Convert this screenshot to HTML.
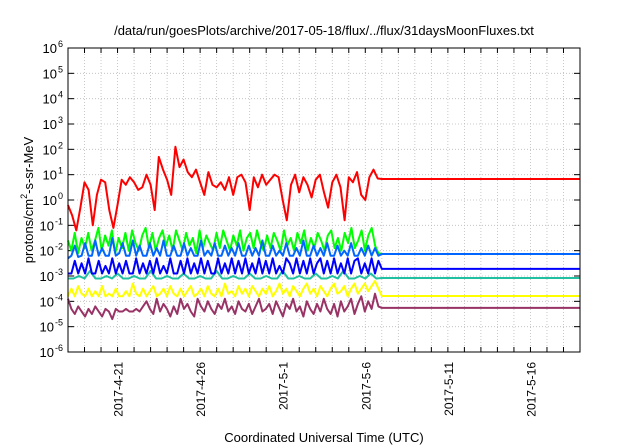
<!DOCTYPE html>
<html><head><meta charset="utf-8"><style>
body{margin:0;background:#fff;}
svg{display:block;font-family:"Liberation Sans",sans-serif;}
</style></head><body>
<svg id="chart" width="640" height="448" viewBox="0 0 640 448"></svg>
<script>
const yTickExps=[-6,-5,-4,-3,-2,-1,0,1,2,3,4,5,6];
const xTickLabels=["2017-4-21","2017-4-26","2017-5-1","2017-5-6","2017-5-11","2017-5-16"];
const xTickDays=[3,8,13,18,23,28];
const red=[-0.2,-0.6,-1.2,-0.3,0.7,0.4,-1.0,0.2,0.8,0.7,-0.4,-1.1,-0.2,0.8,0.6,0.9,0.7,0.4,0.5,1.0,0.6,-0.4,1.7,1.2,0.8,0.2,2.1,1.3,1.6,1.1,0.9,1.2,0.7,0.2,1.1,0.6,0.5,0.7,0.4,0.9,0.2,0.9,1.0,0.7,-0.4,0.9,0.5,1.0,0.6,0.8,1.0,0.9,0.0,-0.8,0.6,1.0,0.3,0.9,0.6,0.1,0.8,1.0,0.3,-0.3,0.7,1.0,0.5,-0.8,0.9,0.7,1.1,0.2,0.0,0.9,1.2,0.85,0.83];
const green=[-1.6,-2.0,-1.3,-2.1,-1.5,-1.9,-1.3,-2.0,-1.6,-1.1,-2.0,-1.4,-1.8,-1.2,-2.1,-1.5,-1.9,-1.3,-2.0,-1.2,-1.7,-2.0,-1.4,-1.1,-1.9,-1.3,-2.0,-1.5,-1.2,-1.8,-1.4,-2.0,-1.2,-1.6,-2.0,-1.3,-1.8,-1.5,-2.1,-1.2,-1.9,-1.4,-1.7,-2.0,-1.3,-1.9,-1.2,-1.6,-2.0,-1.4,-1.8,-1.2,-2.0,-1.5,-1.3,-1.9,-1.2,-1.7,-2.0,-1.4,-1.9,-1.3,-1.6,-2.0,-1.2,-1.8,-1.5,-2.0,-1.3,-1.7,-1.2,-2.0,-1.5,-1.9,-1.3,-1.6,-2.0,-1.4,-1.2,-1.9,-1.5,-2.0,-1.3,-1.7,-1.1,-1.9,-1.6,-1.2,-2.0,-1.4,-1.1,-1.8,-2.1,-2.13];
const lightBlue=[-2.3,-2.2,-1.8,-2.25,-2.2,-1.7,-2.2,-2.2,-1.6,-2.2,-1.9,-2.2,-2.2,-1.5,-2.2,-2.1,-1.7,-2.2,-2.2,-1.6,-2.2,-1.8,-2.2,-2.2,-1.7,-2.2,-1.9,-2.2,-1.6,-2.2,-2.2,-1.8,-2.2,-2.2,-1.7,-2.2,-1.9,-2.2,-2.2,-1.6,-2.2,-2.0,-2.2,-1.7,-2.2,-2.2,-1.8,-2.2,-1.9,-2.2,-1.7,-2.2,-2.2,-1.8,-2.2,-1.9,-2.2,-1.6,-2.2,-2.2,-1.8,-2.2,-2.0,-2.2,-1.7,-2.2,-2.2,-1.9,-2.2,-1.6,-2.2,-2.2,-1.8,-2.2,-1.9,-2.2,-1.7,-2.2,-2.2,-1.8,-2.2,-2.0,-2.2,-1.7,-2.2,-2.2,-1.9,-2.2,-1.8,-2.2,-1.9,-2.2,-2.13];
const blue=[-2.9,-2.9,-2.4,-2.9,-2.5,-2.9,-2.3,-2.9,-2.9,-2.4,-2.9,-2.6,-2.9,-2.3,-2.9,-2.5,-2.9,-2.4,-2.9,-2.9,-2.3,-2.9,-2.5,-2.9,-2.4,-2.9,-2.3,-2.9,-2.6,-2.9,-2.3,-2.9,-2.9,-2.4,-2.9,-2.3,-2.9,-2.5,-2.9,-2.3,-2.9,-2.4,-2.9,-2.9,-2.3,-2.9,-2.5,-2.9,-2.3,-2.9,-2.4,-2.9,-2.3,-2.9,-2.5,-2.9,-2.3,-2.9,-2.4,-2.9,-2.3,-2.9,-2.6,-2.9,-2.3,-2.5,-2.9,-2.3,-2.9,-2.4,-2.9,-2.3,-2.9,-2.5,-2.3,-2.9,-2.4,-2.9,-2.3,-2.9,-2.5,-2.9,-2.3,-2.9,-2.4,-2.3,-2.9,-2.5,-2.9,-2.3,-2.9,-2.4,-2.72];
const teal=[-3.1,-3.1,-3.0,-3.1,-2.8,-3.1,-3.1,-3.0,-3.1,-2.9,-3.1,-3.1,-3.0,-3.1,-3.1,-2.8,-3.1,-3.1,-3.0,-3.1,-3.1,-2.9,-3.1,-3.1,-3.0,-3.1,-3.1,-2.8,-3.1,-3.1,-3.0,-3.1,-3.1,-2.9,-3.1,-3.1,-3.0,-3.1,-3.1,-2.8,-3.1,-3.1,-3.0,-3.1,-3.1,-2.9,-3.1,-3.1,-3.0,-3.1,-2.8,-3.1,-3.1,-3.0,-3.1,-2.9,-3.1,-3.08];
const yellow=[-3.8,-3.5,-3.8,-3.4,-3.7,-3.8,-3.5,-3.8,-3.6,-3.8,-3.4,-3.8,-3.7,-3.8,-3.5,-3.8,-3.8,-3.6,-3.8,-3.3,-3.7,-3.8,-3.5,-3.8,-3.6,-3.4,-3.8,-3.7,-3.5,-3.8,-3.4,-3.7,-3.8,-3.5,-3.8,-3.6,-3.4,-3.8,-3.7,-3.5,-3.8,-3.4,-3.7,-3.8,-3.5,-3.8,-3.3,-3.7,-3.6,-3.8,-3.4,-3.7,-3.5,-3.8,-3.4,-3.6,-3.8,-3.5,-3.7,-3.4,-3.8,-3.6,-3.3,-3.7,-3.5,-3.8,-3.4,-3.6,-3.8,-3.5,-3.3,-3.7,-3.5,-3.8,-3.4,-3.6,-3.8,-3.5,-3.3,-3.7,-3.6,-3.4,-3.8,-3.5,-3.3,-3.7,-3.5,-3.3,-3.6,-3.4,-3.2,-3.5,-3.79];
const purple=[-3.9,-4.3,-4.5,-4.2,-4.4,-4.6,-4.3,-4.5,-4.2,-4.4,-4.6,-4.3,-4.4,-4.7,-4.3,-4.4,-4.4,-4.3,-4.4,-4.4,-4.3,-4.4,-4.2,-4.0,-4.3,-4.5,-3.9,-4.4,-4.1,-4.3,-4.6,-4.2,-4.5,-3.9,-4.3,-4.1,-4.4,-4.6,-3.9,-4.2,-4.4,-4.0,-4.3,-4.5,-4.1,-4.3,-3.9,-4.4,-4.2,-4.5,-4.0,-4.3,-4.4,-4.1,-4.5,-4.2,-3.9,-4.4,-4.3,-4.1,-4.5,-4.0,-4.3,-4.6,-4.1,-4.3,-3.9,-4.4,-4.2,-4.6,-4.0,-4.3,-4.5,-4.1,-4.4,-3.9,-4.3,-4.5,-4.1,-4.6,-4.0,-4.4,-4.2,-3.9,-4.5,-4.1,-3.8,-4.4,-4.0,-4.3,-3.7,-4.2,-4.26];
const dataDays=19, totalDays=31;
const L=68,R=580,T=48,B=352;
const X=d=>L+d/totalDays*(R-L);
const Y=e=>B-(e+6)/12*(B-T);
const svg=document.getElementById('chart');
const NS='http://www.w3.org/2000/svg';
function mk(tag,attrs,parent){const el=document.createElementNS(NS,tag);for(const k in attrs)el.setAttribute(k,attrs[k]);(parent||svg).appendChild(el);return el;}
for(let d=1;d<totalDays;d++){
 const g=mk('line',{x1:X(d),x2:X(d),y1:T,y2:B,stroke:'#bbb','stroke-width':0.8,'stroke-dasharray':'1,2'});
 
 
 const t1=mk('line',{x1:X(d),x2:X(d),y1:B,y2:B-5,stroke:'#000'});
 
 
 const t2=mk('line',{x1:X(d),x2:X(d),y1:T,y2:T+5,stroke:'#000'});
 
 
}
yTickExps.forEach(e=>{
 if(e>-6&&e<6){
  const g=mk('line',{x1:L,x2:R,y1:Y(e),y2:Y(e),stroke:'#bbb','stroke-width':0.8,'stroke-dasharray':'1,2'});
  
  
 }
 const t=mk('line',{x1:L,x2:L+6,y1:Y(e),y2:Y(e),stroke:'#000'});
 
 
 const t2=mk('line',{x1:R,x2:R-6,y1:Y(e),y2:Y(e),stroke:'#000'});
 
 
 const lab=mk('text',{x:L-5,y:Y(e)+5,'text-anchor':'end','font-size':13,fill:'#000'});
 
 
 lab.appendChild(document.createTextNode('10'));
 const sup=mk('tspan',{dx:1,dy:-6,'font-size':9},lab);sup.textContent=String(e);
});
xTickDays.forEach((d,i)=>{
 const lab=mk('text',{transform:`translate(${X(d)+5},362) rotate(-90)`,'text-anchor':'end','font-size':12,fill:'#000'});
 
 
 lab.textContent=xTickLabels[i];
});
function series(arr,color,name){
 const pts=arr.map((v,i)=>X(i/(arr.length-1)*dataDays).toFixed(1)+','+Y(v).toFixed(1));
 pts.push(X(totalDays).toFixed(1)+','+Y(arr[arr.length-1]).toFixed(1));
 const p=mk('polyline',{points:pts.join(' '),fill:'none',stroke:color,'stroke-width':2,'stroke-linejoin':'round'});
 
 
}
series(purple,'#993366','series-purple');
series(yellow,'#ffff00','series-yellow');
series(teal,'#20c0a0','series-teal');
series(green,'#00ff00','series-green');
series(lightBlue,'#0066ff','series-light-blue');
series(blue,'#0000ff','series-blue');
series(red,'#ff0000','series-red');
const frame=mk('rect',{x:L,y:T,width:R-L,height:B-T,fill:'none',stroke:'#000','stroke-width':1});


const title=mk('text',{x:324,y:35,'text-anchor':'middle','font-size':13,fill:'#000'});


title.textContent='/data/run/goesPlots/archive/2017-05-18/flux/../flux/31daysMoonFluxes.txt';
const yl=mk('text',{transform:'translate(33,200) rotate(-90)','text-anchor':'middle','font-size':13,fill:'#000'});


yl.appendChild(document.createTextNode('protons/cm'));
const s2=mk('tspan',{dy:-6,'font-size':9},yl);s2.textContent='2';
const s3=mk('tspan',{dy:6},yl);s3.textContent='-s-sr-MeV';
const xl=mk('text',{x:324,y:442,'text-anchor':'middle','font-size':13,fill:'#000'});


xl.textContent='Coordinated Universal Time (UTC)';
</script>
</body></html>
